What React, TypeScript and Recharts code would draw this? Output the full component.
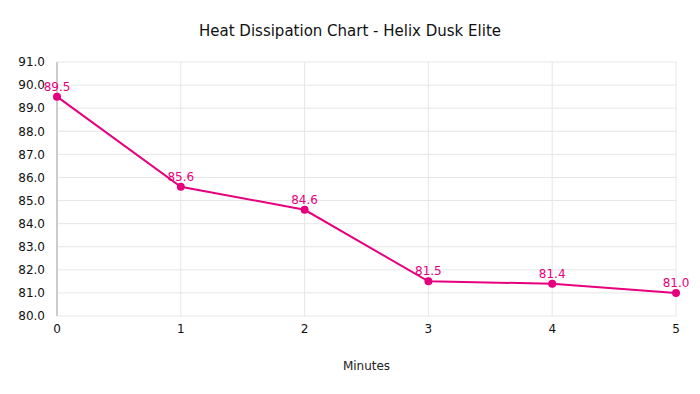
import React from "react";
import {
  LineChart,
  Line,
  XAxis,
  YAxis,
  CartesianGrid,
  LabelList,
} from "recharts";

const minutes = [0, 1, 2, 3, 4, 5];
const temps = [89.5, 85.6, 84.6, 81.5, 81.4, 81.0];
const yTicks = [80, 81, 82, 83, 84, 85, 86, 87, 88, 89, 90, 91];

const data = minutes.map((m, i) => ({ minute: m, temp: temps[i] }));

const font = "'DejaVu Sans', Verdana, sans-serif";
const pink = "#e6007e";

const App: React.FC = () => {
  return (
    <div style={{ position: "relative", width: 700, height: 394, fontFamily: font }}>
      <style>{"body{margin:0}"}</style>
      <div
        style={{
          position: "absolute",
          top: 22,
          width: 700,
          textAlign: "center",
          fontSize: 15,
          color: "#111",
        }}
      >
        Heat Dissipation Chart - Helix Dusk Elite
      </div>
      <div
        style={{
          position: "absolute",
          top: 359,
          left: 57,
          width: 619,
          textAlign: "center",
          fontSize: 12,
          color: "#222",
        }}
      >
        Minutes
      </div>
      <LineChart
        width={700}
        height={394}
        data={data}
        margin={{ top: 62, right: 24, bottom: 0, left: 0 }}
      >
        <CartesianGrid stroke="#e6e6e6" />
        <XAxis
          dataKey="minute"
          type="number"
          domain={[0, 5]}
          ticks={minutes}
          height={78}
          axisLine={false}
          tickLine={false}
          tickSize={0}
          tickMargin={8}
          tick={{ fill: "#111", fontSize: 12, fontFamily: font }}
        />
        <YAxis
          type="number"
          domain={[80, 91]}
          ticks={yTicks}
          width={57}
          interval={0}
          axisLine={{ stroke: "#cccccc", strokeWidth: 2 }}
          tickLine={false}
          tickSize={0}
          tickMargin={12}
          tickFormatter={(v: number) => v.toFixed(1)}
          tick={{ fill: "#111", fontSize: 12, fontFamily: font }}
        />
        <Line
          type="linear"
          dataKey="temp"
          stroke={pink}
          strokeWidth={2}
          dot={{ r: 3, fill: pink, stroke: pink }}
          isAnimationActive={false}
        >
          <LabelList
            dataKey="temp"
            position="top"
            offset={6}
            formatter={(v: any) => Number(v).toFixed(1)}
            style={{ fill: pink, fontSize: 12, fontFamily: font }}
          />
        </Line>
      </LineChart>
    </div>
  );
};

export default App;
